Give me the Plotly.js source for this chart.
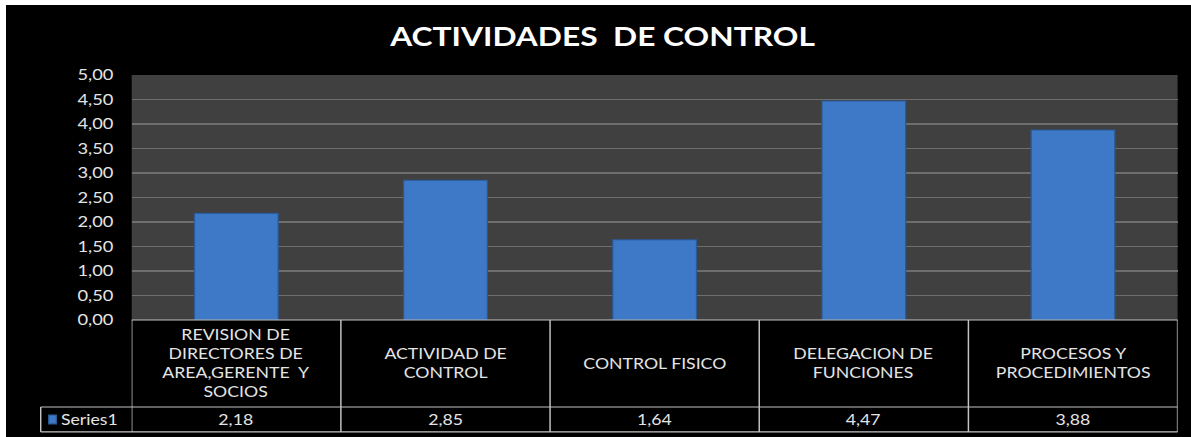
<!DOCTYPE html>
<html>
<head>
<meta charset="utf-8">
<script src="https://cdn.plot.ly/plotly-3.0.1.min.js"></script>
<style>
html,body{margin:0;padding:0;background:#ffffff;overflow:hidden;}
#wrap{position:absolute;left:6px;top:5px;width:1185px;height:432px;background:#000;overflow:hidden;}
#chart{position:absolute;left:0;top:0;width:971px;height:432px;transform:scaleX(1.2204);transform-origin:0 0;}
</style>
</head>
<body>
<div id="wrap"><div id="chart"></div></div>
<script>
var chartTitle = "ACTIVIDADES  DE CONTROL";
var seriesName = "Series1";
var categories = [
  "REVISION DE<br>DIRECTORES DE<br>AREA,GERENTE  Y<br>SOCIOS",
  "ACTIVIDAD DE<br>CONTROL",
  "CONTROL FISICO",
  "DELEGACION DE<br>FUNCIONES",
  "PROCESOS Y<br>PROCEDIMIENTOS"
];
var values = [2.18, 2.85, 1.64, 4.47, 3.88];
var yTickVals = [0, 0.5, 1, 1.5, 2, 2.5, 3, 3.5, 4, 4.5, 5];

var FONT = "Lato, 'Open Sans', sans-serif";
var TXT = "#e4e4e4";
var BORDER = "#c4c4c4";
var BLUE = "#3d79c6";

var idx = categories.map(function(_, i){ return i; });

var traces = [{
  type: "bar",
  x: idx,
  y: values,
  name: seriesName,
  width: 0.4,
  marker: {color: BLUE, line: {color: "#2a5a98", width: 1}},
  hoverinfo: "y"
}];

var rowTop = 0, rowMid = -0.355, rowBot = -0.457, legLeft = -0.087;
var shapes = [];
function line(xref, x0, x1, y0, y1){
  shapes.push({type:"line", xref:xref, yref:"paper", x0:x0, x1:x1, y0:y0, y1:y1,
    line:{color:BORDER, width:1.2}, layer:"above"});
}
line("paper", 0, 1, rowTop, rowTop);
line("paper", legLeft, 1, rowMid, rowMid);
line("paper", legLeft, 1, rowBot, rowBot);
line("paper", legLeft, legLeft, rowMid, rowBot);
for (var i = 0; i <= categories.length; i++) {
  line("x", i - 0.5, i - 0.5, rowTop, rowBot);
}
// legend key square
shapes.push({type:"rect", xref:"paper", yref:"paper",
  x0:-0.0794, x1:-0.0720, y0:-0.388, y1:-0.424,
  fillcolor:BLUE, line:{color:"#2a5a98", width:1}});

var annotations = [];
categories.forEach(function(c, i){
  annotations.push({xref:"x", yref:"paper", x:i, y:(rowTop+rowMid)/2, text:c,
    showarrow:false, align:"center", yanchor:"middle",
    font:{family:FONT, size:14.5, color:TXT}});
  annotations.push({xref:"x", yref:"paper", x:i, y:(rowMid+rowBot)/2,
    text:values[i].toFixed(2).replace(".", ","), showarrow:false, yanchor:"middle",
    font:{family:FONT, size:14.5, color:TXT}});
});
annotations.push({xref:"paper", yref:"paper", x:-0.0695, y:(rowMid+rowBot)/2,
  text:seriesName, showarrow:false, xanchor:"left", yanchor:"middle",
  font:{family:FONT, size:14.5, color:TXT}});

var layout = {
  width: 971, height: 432,
  margin: {l:103.3, r:11.4, t:70, b:117},
  paper_bgcolor: "#000000",
  plot_bgcolor: "#404040",
  separators: ",.",
  showlegend: false,
  title: {text: "<b>" + chartTitle + "</b>", x:0.5034, xanchor:"center", y:0.9266, yanchor:"middle",
    font:{family:FONT, size:26, color:"#ffffff"}},
  xaxis: {type:"linear", range:[-0.5, categories.length - 0.5], showticklabels:false,
    showgrid:false, zeroline:false, ticks:""},
  yaxis: {range:[0, 5], tickvals:yTickVals, tickformat:".2f", showgrid:true,
    gridcolor:"#6e6e6e", gridwidth:1.5, zeroline:false, ticks:"", ticklen:0,
    ticklabelstandoff:14,
    tickfont:{family:FONT, size:15, color:TXT}},
  shapes: shapes,
  annotations: annotations
};

Plotly.newPlot("chart", traces, layout, {staticPlot:true, displayModeBar:false});
</script>
</body>
</html>
